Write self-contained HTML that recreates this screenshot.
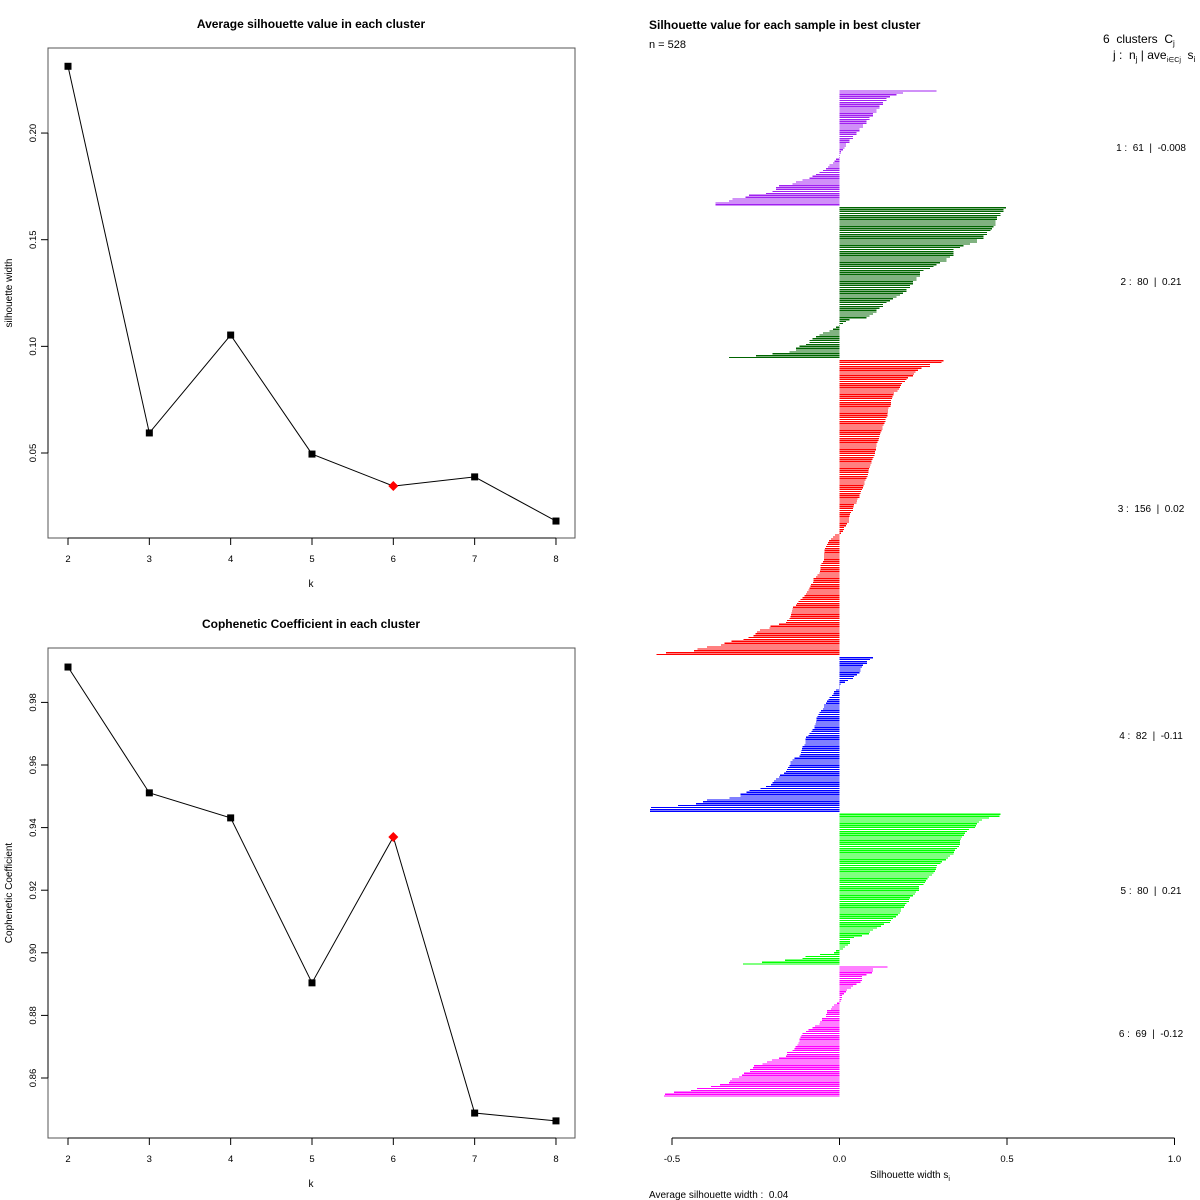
<!DOCTYPE html>
<html><head><meta charset="utf-8">
<style>
html,body{margin:0;padding:0;background:#fff;}
svg{display:block;font-family:"Liberation Sans",sans-serif;}
text{white-space:pre;}
</style></head>
<body>
<svg id="chart" width="1200" height="1200" xmlns="http://www.w3.org/2000/svg"></svg>
<script>
const kValues = [2,3,4,5,6,7,8];
const silWidths = [0.2313,0.0594,0.1053,0.0495,0.0345,0.0388,0.0181];
const copheneticValues = [0.9913,0.9511,0.9431,0.8904,0.937,0.8488,0.8463];
const bestK = 6;
const silTicks = [0.05,0.10,0.15,0.20];
const copTicks = [0.86,0.88,0.90,0.92,0.94,0.96,0.98];
const clusterSizes = [61,80,156,82,80,69];
const clusterAvg = ["-0.008","0.21","0.02","-0.11","0.21","-0.12"];
const clusterColors = ["#A020F0","#006400","#FF0000","#0000FF","#00FF00","#FF00FF"];
const c1 = [0.29,0.19,0.17,0.15,0.14,0.14,0.13,0.12,0.13,0.12,0.11,0.11,0.10,0.10,0.09,0.09,0.08,0.08,0.07,0.07,0.06,0.06,0.05,0.05,0.04,0.04,0.03,0.03,0.02,0.02,0.015,0.01,0.005,0.003,0.002,0.001,
 -0.01,-0.015,-0.02,-0.03,-0.035,-0.04,-0.05,-0.06,-0.07,-0.08,-0.09,-0.11,-0.13,-0.14,-0.18,-0.19,-0.19,-0.2,-0.22,-0.27,-0.28,-0.32,-0.33,-0.37,-0.37];
const c2 = [0.497,0.49,0.49,0.48,0.48,0.47,0.47,0.465,0.465,0.465,0.46,0.455,0.45,0.44,0.44,0.43,0.43,0.41,0.41,0.39,0.37,0.34,0.34,0.34,0.34,0.33,0.32,0.32,0.30,0.29,0.25,0.24,0.24,0.24,0.23,0.23,0.22,0.22,0.21,0.21,0.20,0.20,0.17,0.15,0.14,0.13,0.13,0.12,0.11,0.11,0.09,0.08,0.03,0.02,0.01,0.36,0.28,0.27,0.19,0.18,0.16,0.10,
 -0.002,-0.01,-0.02,-0.03,-0.05,-0.06,-0.07,-0.08,-0.09,-0.09,-0.10,-0.12,-0.13,-0.13,-0.15,-0.20,-0.25,-0.33];
const c3 = [0.31,0.305,0.27,0.27,0.245,0.235,0.227,0.223,0.22,0.205,0.2,0.195,0.186,0.183,0.181,0.177,0.173,0.163,0.161,0.158,0.156,0.153,0.153,0.153,0.152,0.146,0.145,0.145,0.144,0.143,0.14,0.138,0.137,0.134,0.131,0.129,0.129,0.123,0.121,0.118,0.114,0.111,0.109,0.109,0.106,0.106,0.105,0.101,0.096,0.093,0.091,0.088,0.087,0.087,0.085,0.080,0.077,0.074,0.072,0.067,0.064,0.062,0.059,0.054,0.052,0.044,0.042,0.040,0.040,0.032,0.030,0.029,0.028,0.028,0.022,0.014,0.014,0.004,0.125,0.12,0.117,0.11,0.098,0.095,0.083,0.075,0.07,0.06,0.05,0.035,0.02,0.01,
 -0.013,-0.02,-0.025,-0.031,-0.035,-0.038,-0.041,-0.043,-0.045,-0.045,-0.046,-0.046,-0.047,-0.047,-0.05,-0.053,-0.056,-0.057,-0.057,-0.058,-0.078,-0.078,-0.079,-0.085,-0.087,-0.089,-0.092,-0.097,-0.11,-0.117,-0.122,-0.127,-0.139,-0.141,-0.142,-0.144,-0.145,-0.147,-0.15,-0.157,-0.206,-0.209,-0.238,-0.246,-0.251,-0.256,-0.271,-0.286,-0.323,-0.344,-0.353,-0.395,-0.424,-0.434,-0.518,-0.547,-0.06,-0.065,-0.07,-0.1,-0.105,-0.13,-0.16,-0.18];
const c4 = [0.1,0.091,0.082,0.082,0.067,0.062,0.062,0.059,0.052,0.044,0.04,0.025,0.016,0.003,0.002,0.001,0.07,
 -0.01,-0.016,-0.018,-0.022,-0.033,-0.037,-0.04,-0.046,-0.046,-0.049,-0.055,-0.062,-0.066,-0.068,-0.069,-0.07,-0.072,-0.075,-0.075,-0.084,-0.093,-0.1,-0.102,-0.102,-0.102,-0.11,-0.112,-0.113,-0.115,-0.117,-0.135,-0.147,-0.147,-0.15,-0.153,-0.156,-0.165,-0.177,-0.18,-0.189,-0.195,-0.204,-0.219,-0.236,-0.269,-0.278,-0.296,-0.296,-0.329,-0.395,-0.407,-0.428,-0.482,-0.562,-0.565,-0.565,-0.03,-0.06,-0.08,-0.09,-0.105,-0.12,-0.14,-0.16,-0.2];
const c5 = [0.48,0.477,0.447,0.426,0.417,0.411,0.408,0.405,0.387,0.381,0.375,0.372,0.365,0.362,0.36,0.36,0.36,0.357,0.35,0.345,0.342,0.324,0.318,0.306,0.302,0.291,0.29,0.288,0.285,0.276,0.267,0.263,0.258,0.255,0.238,0.238,0.238,0.229,0.226,0.22,0.211,0.208,0.208,0.196,0.192,0.184,0.183,0.181,0.174,0.168,0.153,0.151,0.133,0.124,0.112,0.091,0.088,0.067,0.044,0.032,0.032,0.032,0.026,0.017,0.01,0.34,0.33,0.28,0.25,0.2,0.16,0.1,
 -0.01,-0.016,-0.058,-0.102,-0.111,-0.162,-0.231,-0.288];
const c6 = [0.144,0.1,0.1,0.097,0.067,0.067,0.067,0.062,0.05,0.04,0.034,0.022,0.019,0.014,0.007,0.007,0.006,0.08,0.003,
 -0.007,-0.016,-0.022,-0.025,-0.037,-0.037,-0.04,-0.04,-0.052,-0.052,-0.058,-0.073,-0.081,-0.093,-0.111,-0.114,-0.117,-0.119,-0.12,-0.123,-0.126,-0.132,-0.135,-0.156,-0.157,-0.159,-0.201,-0.216,-0.255,-0.258,-0.267,-0.267,-0.285,-0.291,-0.321,-0.327,-0.33,-0.357,-0.384,-0.426,-0.444,-0.494,-0.521,-0.524,-0.06,-0.1,-0.14,-0.18,-0.23,-0.3];
const silTicksX = [-0.5,0.0,0.5,1.0];
const silTickLabels = ["-0.5","0.0","0.5","1.0"];

const NS="http://www.w3.org/2000/svg";
const svg=document.getElementById('chart');
function mk(tag,attrs,parent){const e=document.createElementNS(NS,tag);for(const k in attrs)e.setAttribute(k,attrs[k]);(parent||svg).appendChild(e);return e;}
function txt(s,attrs,parent){const e=mk('text',attrs,parent);e.textContent=s;return e;}

function lineChart(cfg){
  const g=mk('g',{});
  
  
  const xS=k=>68+(k-2)*81.33;
  const yS=cfg.yS;
  const b=mk('rect',{x:48,y:cfg.top,width:527,height:490,fill:'none',stroke:'#555','stroke-width':1},g);
  
  const t=txt(cfg.title,{x:311,y:cfg.top-20,'text-anchor':'middle','font-size':12,'font-weight':'bold'},g);
  
  const bot=cfg.top+490;
  const xa=mk('line',{x1:xS(2),x2:xS(8),y1:bot,y2:bot,stroke:'#000'},g);
  
  kValues.forEach(k=>{
    mk('line',{x1:xS(k),x2:xS(k),y1:bot,y2:bot+7,stroke:'#000'},g);
    const l=txt(String(k),{x:xS(k),y:bot+24,'text-anchor':'middle','font-size':9.5},g);
    
  });
  const xt=txt('k',{x:311,y:bot+49,'text-anchor':'middle','font-size':10},g);
  
  const ya=mk('line',{x1:48,x2:48,y1:yS(cfg.ticks[0]),y2:yS(cfg.ticks[cfg.ticks.length-1]),stroke:'#000'},g);
  
  cfg.ticks.forEach(v=>{
    const y=yS(v);
    mk('line',{x1:41,x2:48,y1:y,y2:y,stroke:'#000'},g);
    const l=txt(v.toFixed(2),{x:36,y:y,'text-anchor':'middle','font-size':9.5,transform:`rotate(-90 36 ${y})`},g);
    
  });
  const yc=cfg.top+245;
  const yt=txt(cfg.ylab,{x:12,y:yc,'text-anchor':'middle','font-size':10,transform:`rotate(-90 12 ${yc})`},g);
  
  const pts=kValues.map((k,i)=>xS(k)+','+yS(cfg.vals[i])).join(' ');
  const pl=mk('polyline',{points:pts,fill:'none',stroke:'#000','stroke-width':1},g);
  
  kValues.forEach((k,i)=>{
    const x=xS(k),y=yS(cfg.vals[i]);
    let p;
    if(k===bestK){p=mk('polygon',{points:`${x},${y-5} ${x+5},${y} ${x},${y+5} ${x-5},${y}`,fill:'#FF0000'},g);}
    else{p=mk('rect',{x:x-3.5,y:y-3.5,width:7,height:7,fill:'#000'},g);}
    
  });
}
lineChart({name:'silhouette-by-k-chart',top:48,title:'Average silhouette value in each cluster',ylab:'silhouette width',
  vals:silWidths,ticks:silTicks,yS:v=>453-(v-0.05)*2133});
lineChart({name:'cophenetic-by-k-chart',top:648,title:'Cophenetic Coefficient in each cluster',ylab:'Cophenetic Coefficient',
  vals:copheneticValues,ticks:copTicks,yS:v=>1078-(v-0.86)*3130});

const sg=mk('g',{});


const sx=v=>839.5+v*335;
const clusters=[c1,c2,c3,c4,c5,c6].map(a=>a.slice().sort((a,b)=>b-a));
const total=clusters.reduce((s,a)=>s+a.length,0);
const gap=0.6;
const unit=(1098-91)/(total+gap*(clusters.length-1));
let pos=0;
clusters.forEach((arr,ci)=>{
  arr.forEach(v=>{
    const y=91+pos*unit;
    const x0=Math.min(sx(0),sx(v)),w=Math.max(Math.abs(sx(v)-sx(0)),0.6);
    const r=mk('rect',{x:x0,y:y-0.6,width:w,height:1.2,fill:clusterColors[ci],'shape-rendering':'crispEdges'},sg);
    
    
    pos+=1;
  });
  pos+=gap;
});
[147,281,508,735,890,1033].forEach((y,i)=>{
  const l=txt(`${i+1} :  ${clusterSizes[i]}  |  ${clusterAvg[i]}`,{x:1151,y:y+4,'text-anchor':'middle','font-size':10},sg);
  
});
const sxa=mk('line',{x1:sx(-0.5),x2:sx(1),y1:1138,y2:1138,stroke:'#000'},sg);

silTicksX.forEach((v,i)=>{
  mk('line',{x1:sx(v),x2:sx(v),y1:1138,y2:1145,stroke:'#000'},sg);
  const l=txt(silTickLabels[i],{x:sx(v),y:1162,'text-anchor':'middle','font-size':9.5},sg);
  
});
const st=txt('',{x:910,y:1178,'text-anchor':'middle','font-size':10},sg);
st.innerHTML='Silhouette width s<tspan font-size="7" dy="3">i</tspan>';

const av=txt('Average silhouette width :  0.04',{x:649,y:1198,'font-size':10},sg);

const tt=txt('Silhouette value for each sample in best cluster',{x:649,y:29,'font-size':12,'font-weight':'bold'},sg);

const nn=txt('n = 528',{x:649,y:48,'font-size':11},sg);

const h1=txt('',{x:1103,y:43,'font-size':12},sg);
h1.innerHTML='6  clusters  C<tspan font-size="8" dy="3">j</tspan>';

const h2=txt('',{x:1113,y:59,'font-size':12},sg);
h2.innerHTML='j :  n<tspan font-size="8" dy="3">j</tspan><tspan dy="-3"> | ave</tspan><tspan font-size="7" dy="3">i∈Cj</tspan><tspan dy="-3">  s</tspan><tspan font-size="8" dy="3">i</tspan>';

</script>
</body></html>
